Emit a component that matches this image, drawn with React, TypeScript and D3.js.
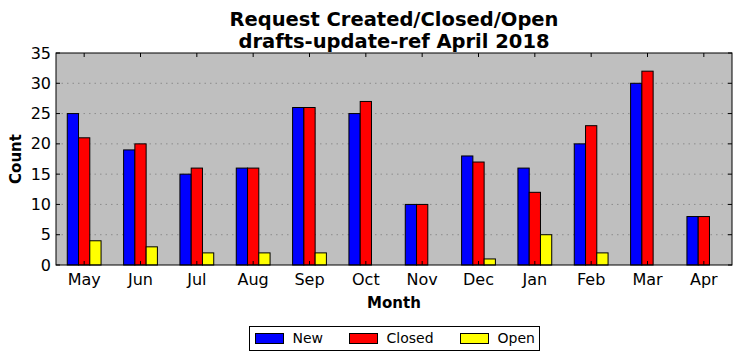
import React, { useEffect, useRef } from 'react';
import * as d3 from 'd3';

const months = ['May', 'Jun', 'Jul', 'Aug', 'Sep', 'Oct', 'Nov', 'Dec', 'Jan', 'Feb', 'Mar', 'Apr'];
const newCounts = [25, 19, 15, 16, 26, 25, 10, 18, 16, 20, 30, 8];
const closedCounts = [21, 20, 16, 16, 26, 27, 10, 17, 12, 23, 32, 8];
const openCounts = [4, 3, 2, 2, 2, 0, 0, 1, 5, 2, 0, 0];
const seriesNames = ['New', 'Closed', 'Open'];
const seriesColors = ['#0000ff', '#ff0000', '#ffff00'];
const yTicks = [0, 5, 10, 15, 20, 25, 30, 35];

const W = 742;
const H = 361;
const font = '"DejaVu Sans", sans-serif';

const App: React.FC = () => {
  const svgRef = useRef<SVGSVGElement>(null);

  useEffect(() => {
    if (!svgRef.current) return;
    const svg = d3.select(svgRef.current);
    svg.selectAll('*').remove();

    const m = { left: 56, right: 10, top: 53, bottom: 96 };
    const x0 = m.left, x1 = W - m.right, y0 = m.top, y1 = H - m.bottom;

    const x = d3.scaleLinear().domain([-0.5, months.length - 0.5]).range([x0, x1]);
    const y = d3.scaleLinear().domain([0, 35]).range([y1, y0]);
    const barW = 0.2;

    svg.append('rect')
      .attr('x', x0).attr('y', y0).attr('width', x1 - x0).attr('height', y1 - y0)
      .attr('fill', '#bfbfbf');

    // dotted grid
    svg.append('g').selectAll('line')
      .data(yTicks.filter(t => t > 0 && t < 35))
      .join('line')
      .attr('x1', x0).attr('x2', x1)
      .attr('y1', d => y(d)).attr('y2', d => y(d))
      .attr('stroke', '#8c8c8c').attr('stroke-width', 1)
      .attr('stroke-dasharray', '1.5,4');

    const series = [newCounts, closedCounts, openCounts];
    series.forEach((vals, si) => {
      svg.append('g').selectAll('rect')
        .data(vals)
        .join('rect')
        .attr('x', (_, i) => x(i - 0.3 + si * barW))
        .attr('width', x(barW) - x(0))
        .attr('y', d => y(d))
        .attr('height', d => y(0) - y(d))
        .attr('fill', seriesColors[si])
        .attr('stroke', '#000')
        .attr('stroke-width', 1);
    });

    // frame
    svg.append('rect')
      .attr('x', x0).attr('y', y0).attr('width', x1 - x0).attr('height', y1 - y0)
      .attr('fill', 'none').attr('stroke', '#000').attr('stroke-width', 1);

    // ticks (inward, all sides)
    const tk = svg.append('g').attr('stroke', '#000').attr('stroke-width', 1);
    months.forEach((_, i) => {
      tk.append('line').attr('x1', x(i)).attr('x2', x(i)).attr('y1', y1).attr('y2', y1 - 4);
      tk.append('line').attr('x1', x(i)).attr('x2', x(i)).attr('y1', y0).attr('y2', y0 + 4);
    });
    yTicks.forEach(t => {
      tk.append('line').attr('x1', x0).attr('x2', x0 + 4).attr('y1', y(t)).attr('y2', y(t));
      tk.append('line').attr('x1', x1).attr('x2', x1 - 4).attr('y1', y(t)).attr('y2', y(t));
    });

    // tick labels
    svg.append('g').selectAll('text')
      .data(yTicks)
      .join('text')
      .attr('x', x0 - 5).attr('y', d => y(d)).attr('dy', '0.35em')
      .attr('text-anchor', 'end')
      .style('font', `16px ${font}`)
      .text(d => d);

    svg.append('g').selectAll('text')
      .data(months)
      .join('text')
      .attr('x', (_, i) => x(i)).attr('y', y1 + 20)
      .attr('text-anchor', 'middle')
      .style('font', `16px ${font}`)
      .text(d => d);

    // axis titles
    svg.append('text')
      .attr('x', (x0 + x1) / 2).attr('y', 308)
      .attr('text-anchor', 'middle')
      .style('font', `bold 15px ${font}`)
      .text('Month');

    svg.append('text')
      .attr('transform', `translate(21,${(y0 + y1) / 2}) rotate(-90)`)
      .attr('text-anchor', 'middle')
      .style('font', `bold 15px ${font}`)
      .text('Count');

    // title
    const title = svg.append('text')
      .attr('text-anchor', 'middle')
      .style('font', `bold 19.5px ${font}`);
    title.append('tspan').attr('x', (x0 + x1) / 2).attr('y', 26).text('Request Created/Closed/Open');
    title.append('tspan').attr('x', (x0 + x1) / 2).attr('y', 48).text('drafts-update-ref April 2018');

    // legend
    const lg = svg.append('g').attr('transform', 'translate(249.5,326.5)');
    lg.append('rect').attr('width', 290).attr('height', 24)
      .attr('fill', '#fff').attr('stroke', '#000').attr('stroke-width', 1);
    const legendX = [6, 100, 211];
    seriesNames.forEach((name, i) => {
      lg.append('rect')
        .attr('x', legendX[i]).attr('y', 7).attr('width', 28).attr('height', 10)
        .attr('fill', seriesColors[i]).attr('stroke', '#000').attr('stroke-width', 1);
      lg.append('text')
        .attr('x', legendX[i] + 37).attr('y', 12).attr('dy', '0.35em')
        .style('font', `14px ${font}`)
        .text(name);
    });
  }, []);

  return (
    <svg ref={svgRef} width={W} height={H}
      style={{ position: 'absolute', left: 0, top: 0, background: '#fff' }} />
  );
};

export default App;
